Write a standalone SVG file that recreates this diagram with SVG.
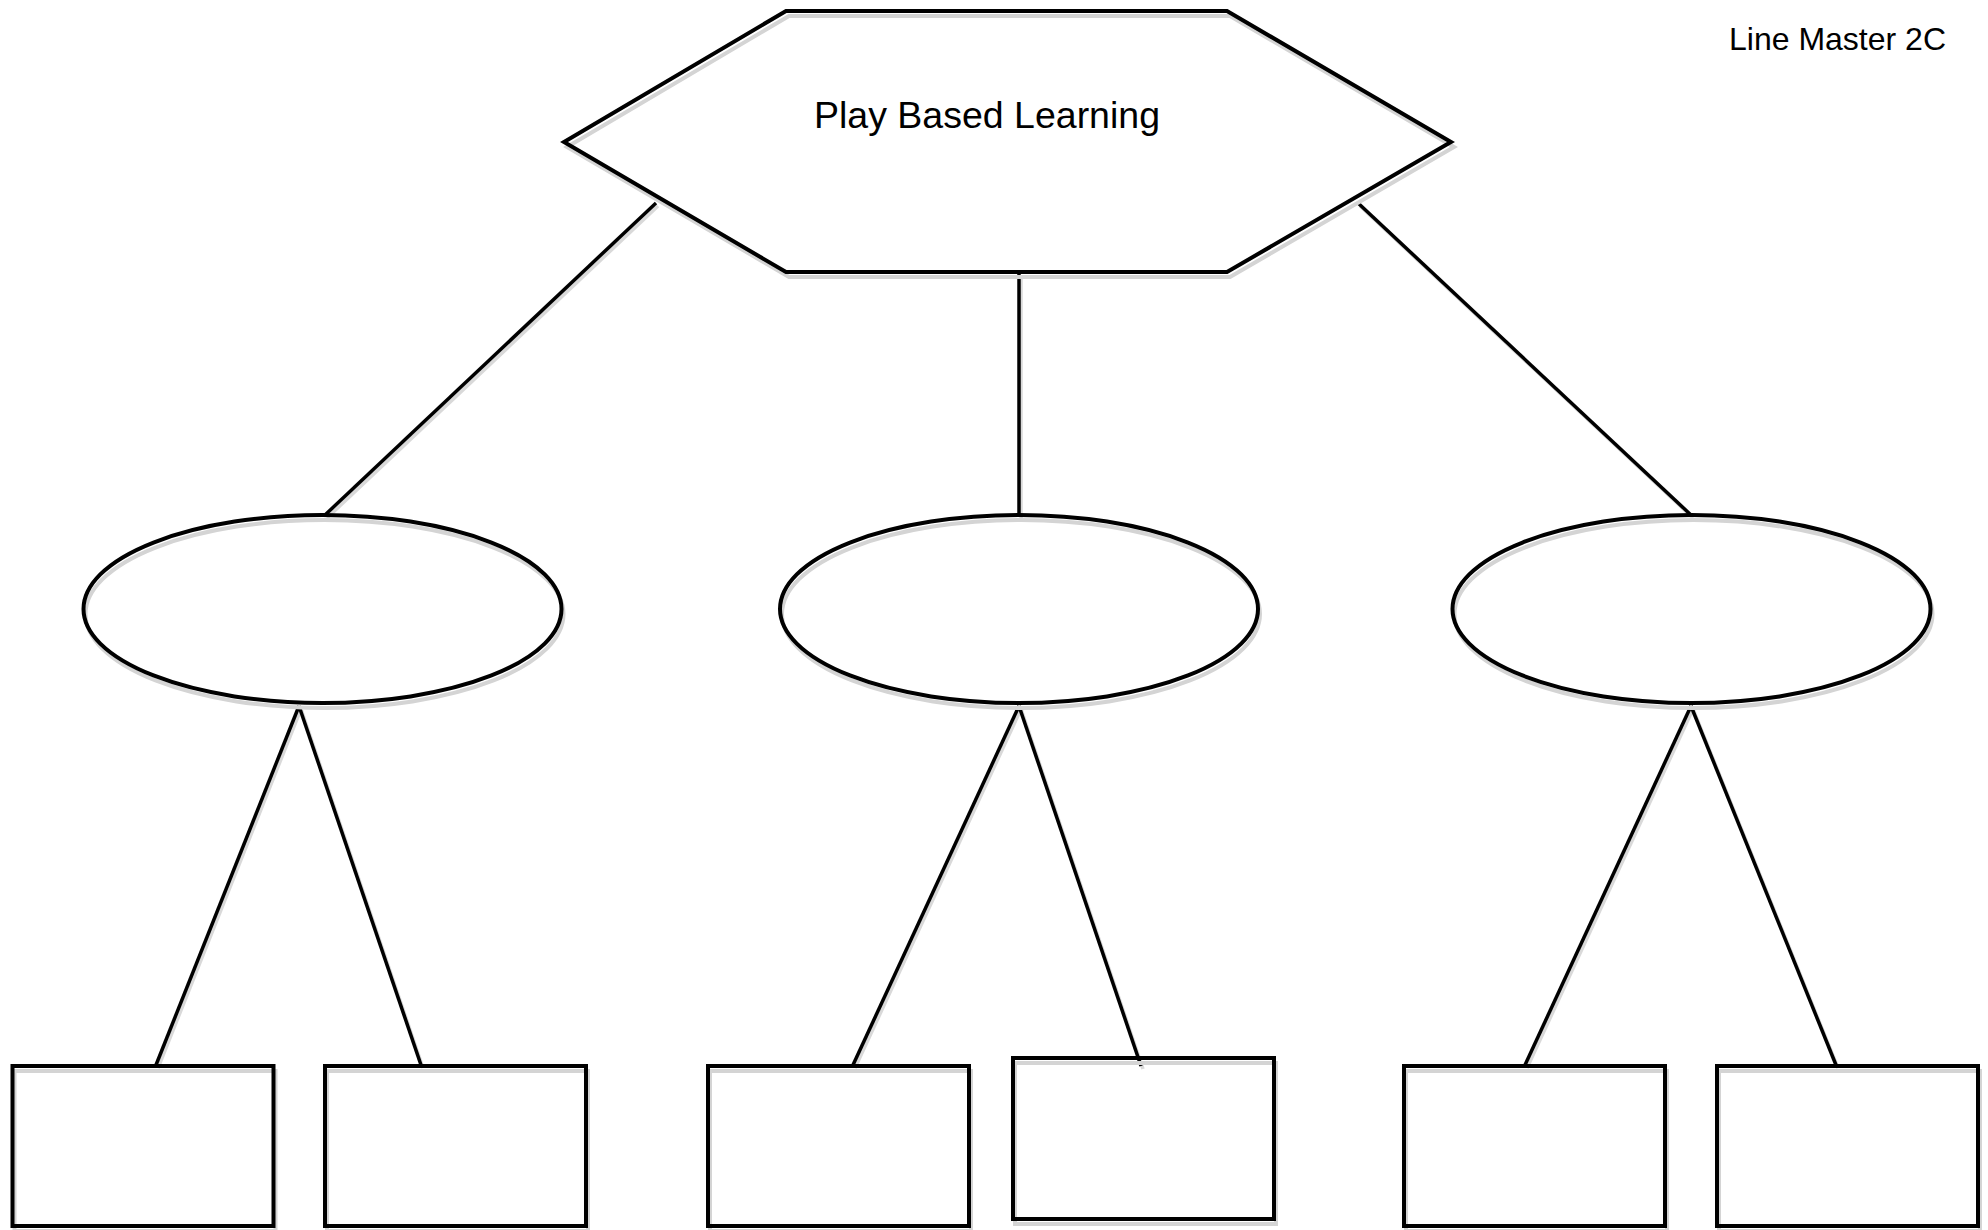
<svg xmlns="http://www.w3.org/2000/svg" xmlns:xlink="http://www.w3.org/1999/xlink" width="1988" height="1230" viewBox="0 0 1988 1230">
<style>
.shape{fill:none;stroke:#000;stroke-width:4}
.shadow{fill:none;stroke:#d4d4d4;stroke-width:4}
.conn{stroke:#000;stroke-width:3.5;fill:none}
.cshadow{stroke:#d9d9d9;stroke-width:3.5;fill:none}
.label{font-family:"Liberation Sans",Arial,sans-serif;fill:#000}
</style>
<rect width="1988" height="1230" fill="#fff"/>
<g id="connectors">
  <g transform="translate(2,3)">
    <line class="cshadow" x1="656" y1="203" x2="325" y2="515"/>
    <line class="cshadow" x1="1019" y1="272" x2="1019" y2="515"/>
    <line class="cshadow" x1="1358" y1="203" x2="1691" y2="515"/>
    <line class="cshadow" x1="299" y1="706" x2="156" y2="1065"/>
    <line class="cshadow" x1="299" y1="706" x2="421" y2="1065"/>
    <line class="cshadow" x1="1019" y1="706" x2="853" y2="1065"/>
    <line class="cshadow" x1="1019" y1="706" x2="1141" y2="1066"/>
    <line class="cshadow" x1="1691" y1="706" x2="1525" y2="1065"/>
    <line class="cshadow" x1="1691" y1="706" x2="1836" y2="1065"/>
  </g>
  <line class="conn" x1="656" y1="203" x2="325" y2="515"/>
  <line class="conn" x1="1019" y1="272" x2="1019" y2="515"/>
  <line class="conn" x1="1358" y1="203" x2="1691" y2="515"/>
  <line class="conn" x1="299" y1="706" x2="156" y2="1065"/>
  <line class="conn" x1="299" y1="706" x2="421" y2="1065"/>
  <line class="conn" x1="1019" y1="706" x2="853" y2="1065"/>
  <line class="conn" x1="1019" y1="706" x2="1141" y2="1066"/>
  <line class="conn" x1="1691" y1="706" x2="1525" y2="1065"/>
  <line class="conn" x1="1691" y1="706" x2="1836" y2="1065"/>
</g>
<g id="hexagon">
  <polygon class="shadow" transform="translate(3,5)" points="786,11 1227,11 1451,142 1227,272 786,272 564,142"/>
  <polygon class="shape" points="786,11 1227,11 1451,142 1227,272 786,272 564,142"/>
  <text class="label" x="987" y="128" font-size="37.5" text-anchor="middle">Play Based Learning</text>
</g>
<g id="ellipse-left">
  <ellipse class="shadow" transform="translate(2,5)" cx="322.5" cy="609" rx="239" ry="94"/>
  <ellipse class="shape" cx="322.5" cy="609" rx="239" ry="94"/>
</g>
<g id="ellipse-middle">
  <ellipse class="shadow" transform="translate(2,5)" cx="1019" cy="609" rx="239" ry="94"/>
  <ellipse class="shape" cx="1019" cy="609" rx="239" ry="94"/>
</g>
<g id="ellipse-right">
  <ellipse class="shadow" transform="translate(2,5)" cx="1691.5" cy="609" rx="239" ry="94"/>
  <ellipse class="shape" cx="1691.5" cy="609" rx="239" ry="94"/>
</g>
<g id="box-1">
  <rect class="shadow" transform="translate(2,5)" x="12.5" y="1066" width="261" height="160"/>
  <rect class="shape" x="12.5" y="1066" width="261" height="160"/>
</g>
<g id="box-2">
  <rect class="shadow" transform="translate(2,5)" x="325" y="1066" width="261" height="160"/>
  <rect class="shape" x="325" y="1066" width="261" height="160"/>
</g>
<g id="box-3">
  <rect class="shadow" transform="translate(2,5)" x="708" y="1066" width="261" height="160"/>
  <rect class="shape" x="708" y="1066" width="261" height="160"/>
</g>
<g id="box-4">
  <rect class="shadow" transform="translate(2,5)" x="1013" y="1058" width="261" height="161"/>
  <rect class="shape" x="1013" y="1058" width="261" height="161"/>
</g>
<g id="box-5">
  <rect class="shadow" transform="translate(2,5)" x="1404" y="1066" width="261" height="160"/>
  <rect class="shape" x="1404" y="1066" width="261" height="160"/>
</g>
<g id="box-6">
  <rect class="shadow" transform="translate(2,5)" x="1717" y="1066" width="261" height="160"/>
  <rect class="shape" x="1717" y="1066" width="261" height="160"/>
</g>
<g id="title">
  <text class="label" x="1946" y="50" font-size="32" text-anchor="end">Line Master 2C</text>
</g>
</svg>
